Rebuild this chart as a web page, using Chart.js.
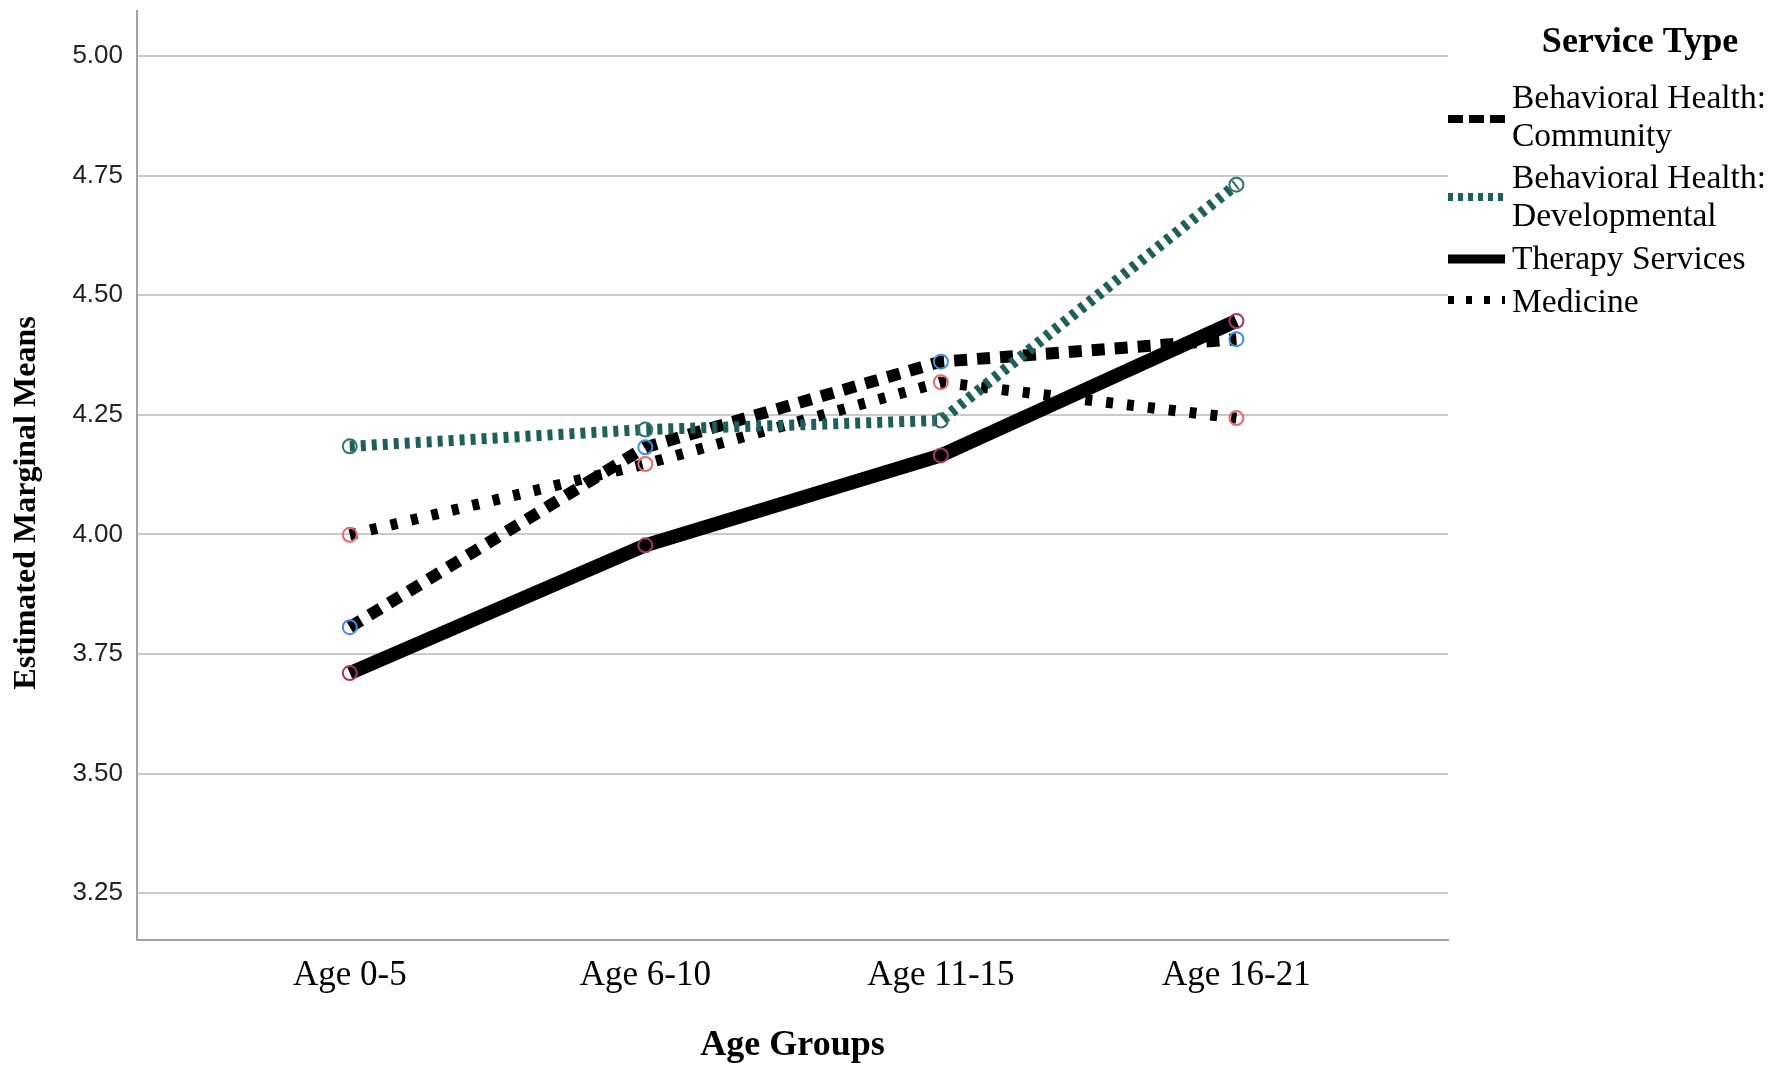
<!DOCTYPE html>
<html>
<head>
<meta charset="utf-8">
<script src="https://cdn.jsdelivr.net/npm/chart.js@4"></script>
<style>
  html, body { margin: 0; padding: 0; background: #fff; }
  #wrap { width: 1772px; height: 1070px; }
</style>
</head>
<body>
<div id="wrap"><canvas id="emmChart" width="1772" height="1070"></canvas></div>
<script>
// values
const ageGroups = ['Age 0-5', 'Age 6-10', 'Age 11-15', 'Age 16-21'];
const community = [3.806, 4.182, 4.361, 4.408];
const developmental = [4.184, 4.219, 4.238, 4.731];
const therapy = [3.710, 3.977, 4.165, 4.446];
const medicine = [3.999, 4.147, 4.318, 4.243];
const yTicks = [3.25, 3.50, 3.75, 4.00, 4.25, 4.50, 4.75, 5.00];
const yTitle = 'Estimated Marginal Means';
const legendTitle = 'Service Type';
const legendLabels = [
  ['Behavioral Health:', 'Community'],
  ['Behavioral Health:', 'Developmental'],
  ['Therapy Services'],
  ['Medicine']
];

const serif = '"Liberation Serif", "Times New Roman", serif';

function toPoints(arr) {
  return arr.map((v, i) => ({ x: i, y: v }));
}

// y axis title (off-centre in the original) and the "Service Type" legend
const sideLegend = {
  id: 'sideLegend',
  afterDraw(chart) {
    const ctx = chart.ctx;
    const ds = chart.data.datasets;
    ctx.save();
    ctx.fillStyle = '#000';
    ctx.textBaseline = 'middle';

    ctx.save();
    ctx.translate(27, 503);
    ctx.rotate(-Math.PI / 2);
    ctx.textAlign = 'center';
    ctx.font = 'bold 32px ' + serif;
    ctx.fillText(yTitle, 0, 0);
    ctx.restore();

    ctx.font = 'bold 36px ' + serif;
    ctx.textAlign = 'center';
    ctx.fillText(legendTitle, 1640, 43);

    ctx.font = '33.5px ' + serif;
    ctx.textAlign = 'left';
    const textRows = [[99, 137], [179, 217], [260], [303]];
    const sampleY = [119, 197, 259, 300];
    const sampleDash = [[15, 6], [5, 5], [], [6, 12]];
    legendLabels.forEach((lines, i) => {
      lines.forEach((t, j) => ctx.fillText(t, 1512, textRows[i][j]));
      ctx.beginPath();
      ctx.setLineDash(sampleDash[i]);
      ctx.lineWidth = i === 2 ? 9 : 8;
      ctx.strokeStyle = ds[i].borderColor;
      ctx.moveTo(1448, sampleY[i]);
      ctx.lineTo(1505, sampleY[i]);
      ctx.stroke();
    });
    ctx.restore();
  }
};

const ctx = document.getElementById('emmChart').getContext('2d');
const emmChart = new Chart(ctx, {
  type: 'line',
  data: {
    datasets: [
      {
        label: 'Behavioral Health: Community',
        data: toPoints(community),
        borderColor: '#000',
        borderWidth: 12,
        borderDash: [13, 10],
        borderCapStyle: 'butt',
        pointBorderColor: '#3c8de6',
        pointBackgroundColor: 'rgba(0,0,0,0)',
        pointRadius: 7,
        pointBorderWidth: 2,
        order: 3
      },
      {
        label: 'Behavioral Health: Developmental',
        data: toPoints(developmental),
        borderColor: '#1e5f5b',
        borderWidth: 11,
        borderDash: [5, 6],
        borderCapStyle: 'butt',
        pointBorderColor: '#2f726d',
        pointBackgroundColor: 'rgba(0,0,0,0)',
        pointRadius: 7,
        pointBorderWidth: 2,
        order: 2
      },
      {
        label: 'Therapy Services',
        data: toPoints(therapy),
        borderColor: '#000',
        borderWidth: 14,
        pointBorderColor: '#a5386c',
        pointBackgroundColor: 'rgba(0,0,0,0)',
        pointRadius: 7,
        pointBorderWidth: 2,
        order: 1
      },
      {
        label: 'Medicine',
        data: toPoints(medicine),
        borderColor: '#000',
        borderWidth: 11,
        borderDash: [7, 14],
        borderCapStyle: 'butt',
        pointBorderColor: '#e8676a',
        pointBackgroundColor: 'rgba(0,0,0,0)',
        pointRadius: 7,
        pointBorderWidth: 2,
        order: 4
      }
    ]
  },
  options: {
    responsive: false,
    animation: false,
    layout: { padding: { top: 11, right: 324, left: 0, bottom: 0 } },
    plugins: {
      legend: { display: false },
      tooltip: { enabled: false }
    },
    scales: {
      x: {
        type: 'linear',
        min: -0.72,
        max: 3.716,
        afterBuildTicks: scale => { scale.ticks = ageGroups.map((_, i) => ({ value: i })); },
        afterFit: scale => {
          scale.height = 130;
          scale.paddingLeft = 0;
          scale.paddingRight = 0;
        },
        grid: { display: false, drawTicks: false },
        border: { display: true, color: '#a3a3a3', width: 2 },
        ticks: {
          padding: 15,
          color: '#000',
          font: { family: serif, size: 35 },
          callback: v => ageGroups[v]
        },
        title: {
          display: true,
          text: 'Age Groups',
          color: '#000',
          font: { family: serif, size: 36, weight: 'bold' },
          padding: { top: 0, bottom: 3 }
        }
      },
      y: {
        min: 3.152,
        max: 5.094,
        afterBuildTicks: scale => { scale.ticks = yTicks.map(v => ({ value: v })); },
        afterFit: scale => {
          scale.width = 137;
          scale.paddingTop = 0;
          scale.paddingBottom = 0;
        },
        grid: { color: '#c9c9c9', lineWidth: 2, drawTicks: false },
        border: { display: true, color: '#a3a3a3', width: 2 },
        ticks: {
          padding: 14,
          color: '#222',
          font: { family: '"Liberation Sans Narrow", "Liberation Sans", sans-serif', size: 26 },
          callback: v => v.toFixed(2)
        },
        title: { display: false }
      }
    }
  },
  plugins: [sideLegend]
});
</script>
</body>
</html>
